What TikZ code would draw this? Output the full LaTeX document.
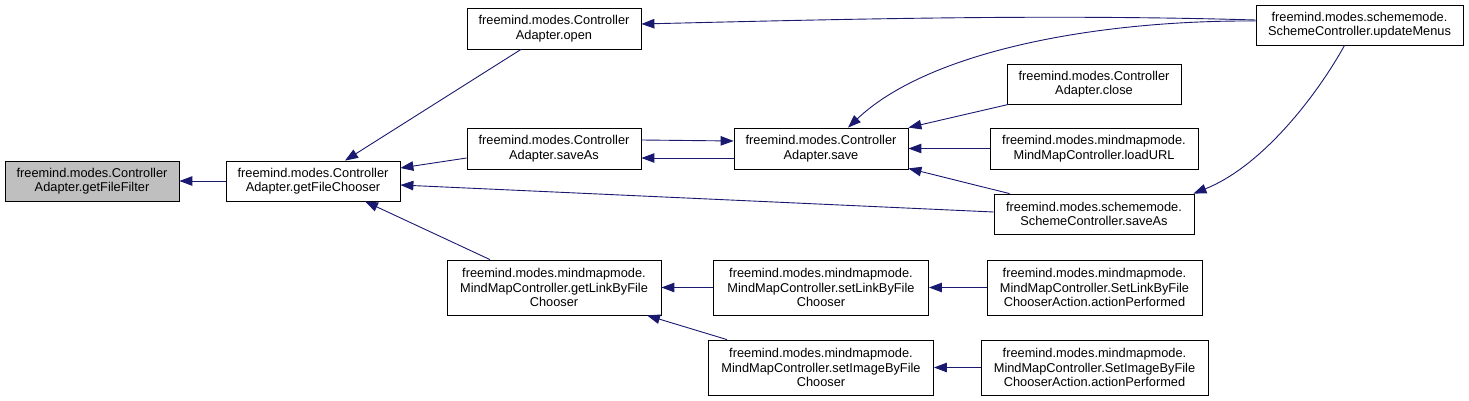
\documentclass[tikz,border=0pt]{standalone}
\usepackage{fontspec}
\setmainfont{Liberation Sans}
\usetikzlibrary{arrows.meta,calc}
\definecolor{edgec}{HTML}{191970}
\definecolor{hlgray}{HTML}{BFBFBF}
\begin{document}
\begin{tikzpicture}[x=1pt,y=-1pt,
  box/.style={draw=black, line width=0.8pt, fill=white, inner sep=0pt, align=center,
    font=\fontsize{12.8}{14.5}\selectfont},
  edge/.style={draw=edgec, line width=0.9pt, -{Triangle[length=13pt,width=9.5pt]}}]
\fill[white] (0,0) rectangle (1469,401);
\useasboundingbox (0,0) rectangle (1469,401);
% nodes
\node[box, fill=hlgray, minimum width=174, minimum height=40] (ff) at (92,181) {freemind.modes.Controller\\Adapter.getFileFilter};
\node[box, minimum width=174, minimum height=40] (fc) at (313,181) {freemind.modes.Controller\\Adapter.getFileChooser};
\node[box, minimum width=174, minimum height=41] (op) at (554,28.5) {freemind.modes.Controller\\Adapter.open};
\node[box, minimum width=174, minimum height=41] (sa) at (554,148.5) {freemind.modes.Controller\\Adapter.saveAs};
\node[box, minimum width=214, minimum height=55] (gl) at (554,287.5) {freemind.modes.mindmapmode.\\MindMapController.getLinkByFile\\Chooser};
\node[box, minimum width=174, minimum height=41] (sv) at (821,148.5) {freemind.modes.Controller\\Adapter.save};
\node[box, minimum width=174, minimum height=40] (cl) at (1094,84) {freemind.modes.Controller\\Adapter.close};
\node[box, minimum width=208, minimum height=41] (lu) at (1094,148.5) {freemind.modes.mindmapmode.\\MindMapController.loadURL};
\node[box, minimum width=200, minimum height=40] (ssa) at (1094,214) {freemind.modes.schememode.\\SchemeController.saveAs};
\node[box, minimum width=207, minimum height=40] (um) at (1359.5,25) {freemind.modes.schememode.\\SchemeController.updateMenus};
\node[box, minimum width=215, minimum height=55] (sl) at (821,287.5) {freemind.modes.mindmapmode.\\MindMapController.setLinkByFile\\Chooser};
\node[box, minimum width=225, minimum height=55] (si) at (821,367.5) {freemind.modes.mindmapmode.\\MindMapController.setImageByFile\\Chooser};
\node[box, minimum width=215, minimum height=55] (sla) at (1094.5,287.5) {freemind.modes.mindmapmode.\\MindMapController.SetLinkByFile\\ChooserAction.actionPerformed};
\node[box, minimum width=227, minimum height=55] (sia) at (1094.5,367.5) {freemind.modes.mindmapmode.\\MindMapController.SetImageByFile\\ChooserAction.actionPerformed};
% edges
\draw[edge] (fc.west) -- (ff.east);
\draw[edge] ($(op.south)+(-33,0)$) -- ($(fc.north)+(32,0)$);
\draw[edge] ($(sa.west)+(0,9.5)$) -- ($(fc.east)+(0,-13)$);
\draw[edge] ($(ssa.west)+(0,-2)$) -- ($(fc.east)+(0,4)$);
\draw[edge] ($(gl.north)+(-64,0)$) -- ($(fc.south)+(52,0)$);
\draw[edge] ($(sa.east)+(0,-8.5)$) -- ($(sv.west)+(0,-7.5)$);
\draw[edge] ($(sv.west)+(0,9.5)$) -- ($(sa.east)+(0,9.5)$);
\draw[edge] ($(um.west)+(0,-5)$) .. controls (1050,14) and (850,19) .. ($(op.east)+(0,-4.5)$);
\draw[edge] ($(um.west)+(0,-4)$) .. controls (1100,20) and (930,50) .. ($(sv.north)+(27,0)$);
\draw[edge] ($(cl.south west)+(2,0)$) -- ($(sv.north east)+(0,0)$);
\draw[edge] (lu.west) -- (sv.east);
\draw[edge] ($(ssa.north west)+(16,0)$) -- ($(sv.south east)+(0,-1)$);
\draw[edge] ($(um.south)+(-15,0)$) .. controls (1320,90) and (1265,165) .. ($(ssa.north east)+(-1,0)$);
\draw[edge] (sl.west) -- (gl.east);
\draw[edge] ($(si.north)+(-94,0)$) -- ($(gl.south)+(93,0)$);
\draw[edge] (sla.west) -- (sl.east);
\draw[edge] (sia.west) -- (si.east);
\end{tikzpicture}
\end{document}
